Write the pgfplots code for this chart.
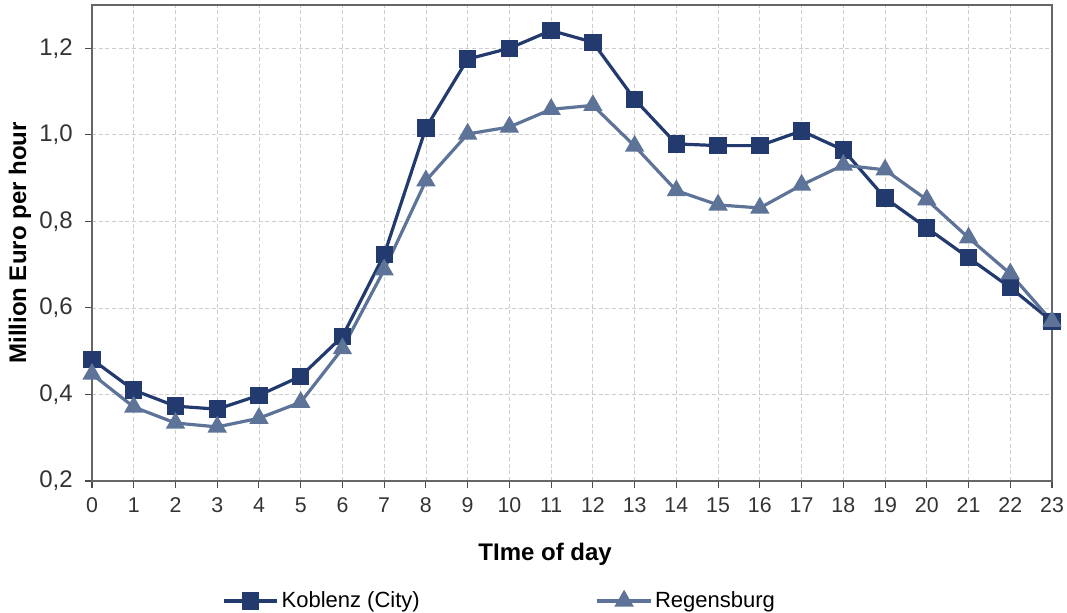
\documentclass[border=0pt]{standalone}
\usepackage{fontspec}
\setmainfont{Liberation Sans}
\usepackage{pgfplots}
\pgfplotsset{compat=1.18}
\definecolor{kob}{HTML}{233A6E}
\definecolor{reg}{HTML}{5E7398}
\begin{document}
\begin{tikzpicture}
\begin{axis}[
  name=ax,
  scale only axis,
  width=720pt, height=357pt,
  xmin=0, xmax=23, ymin=0.2, ymax=1.3,
  xtick={0,...,23},
  ytick={0.2,0.4,...,1.21},
  /pgf/number format/assume math mode=true,
  yticklabel style={/pgf/number format/.cd, use comma, fixed, fixed zerofill, precision=1, /tikz/.cd, font=\fontsize{18}{21}\selectfont\color{black!80}, xshift=-6pt},
  xticklabel style={font=\fontsize{16}{19}\selectfont\color{black!80}, yshift=-4pt},
  grid=major,
  major grid style={densely dashed, gray!40, line width=0.6pt},
  axis line style={black!60, line width=1pt},
  tick style={black!70, line width=0.8pt},
  tick align=outside,
  major tick length=5pt,
  xtick pos=bottom, ytick pos=left,
  xlabel={\bfseries TIme of day},
  ylabel={\bfseries Million Euro per hour},
  xlabel style={font=\fontsize{18}{21}\selectfont, at={(axis description cs:0.472,-0.166)}, anchor=base},
  ylabel style={font=\fontsize{18}{21}\selectfont, at={(axis description cs:-0.075,0.5)}, anchor=center},
  legend style={draw=none, at={(axis description cs:0.425,-0.252)}, anchor=center, font=\fontsize{16.5}{19}\selectfont, legend columns=2, /tikz/every even column/.append style={column sep=130pt}},
  legend image code/.code={\draw[mark repeat=2, mark phase=2, #1] plot coordinates {(0pt,0pt)(20pt,0pt)(40pt,0pt)};},
]
\addplot[kob, line width=2.4pt, mark=square*, mark size=5.3pt, mark options={solid}] coordinates {
(0,0.481)(1,0.410)(2,0.373)(3,0.366)(4,0.398)(5,0.442)(6,0.534)(7,0.723)
(8,1.016)(9,1.175)(10,1.200)(11,1.241)(12,1.214)(13,1.082)(14,0.979)(15,0.975)
(16,0.975)(17,1.009)(18,0.965)(19,0.854)(20,0.785)(21,0.716)(22,0.647)(23,0.569)};
\addlegendentry{Koblenz (City)}
\addplot[reg, line width=2.4pt, mark=triangle*, mark size=6pt, mark options={solid}] coordinates {
(0,0.447)(1,0.371)(2,0.334)(3,0.325)(4,0.345)(5,0.382)(6,0.506)(7,0.688)
(8,0.894)(9,1.002)(10,1.018)(11,1.059)(12,1.068)(13,0.974)(14,0.871)(15,0.838)
(16,0.831)(17,0.884)(18,0.930)(19,0.919)(20,0.850)(21,0.762)(22,0.679)(23,0.569)};
\addlegendentry{Regensburg}
\end{axis}
\pgfresetboundingbox
\path[use as bounding box] ([xshift=-69pt,yshift=-99pt]ax.south west) rectangle ([xshift=11.25pt,yshift=3.75pt]ax.north east);
\end{tikzpicture}
\end{document}
